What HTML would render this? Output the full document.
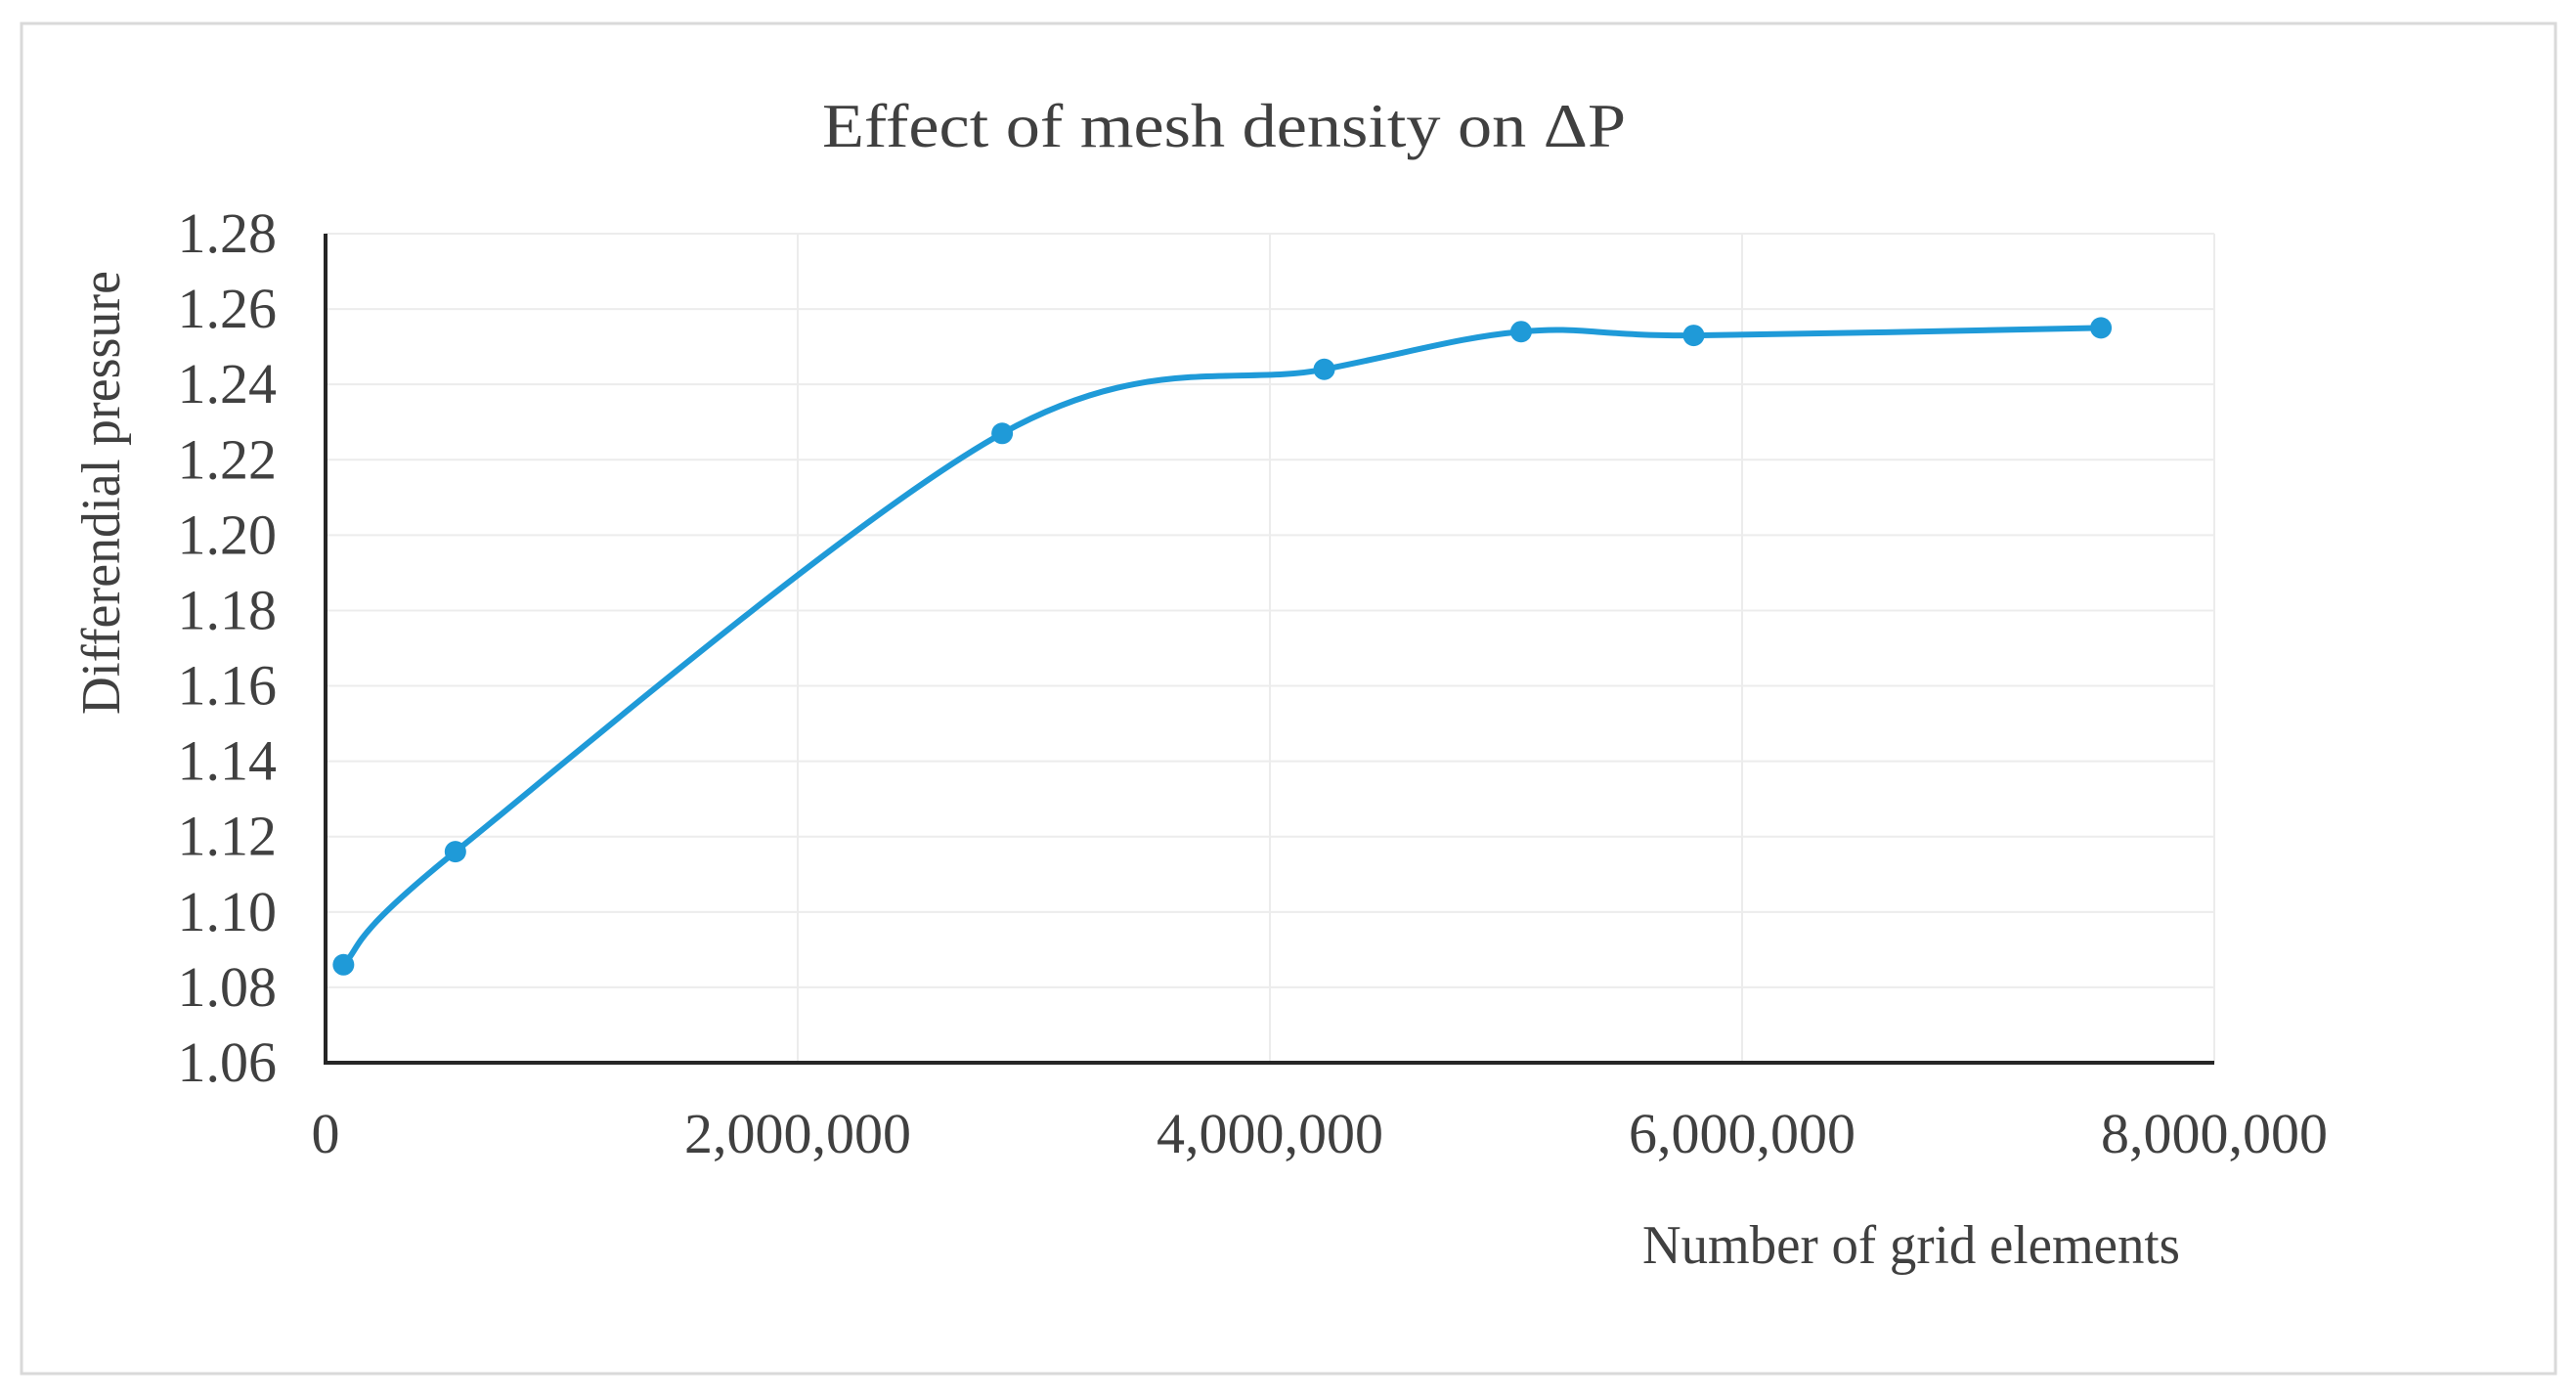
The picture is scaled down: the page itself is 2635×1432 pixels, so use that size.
<!DOCTYPE html>
<html><head><meta charset="utf-8"><style>
body{margin:0;background:#fff;}
svg{display:block;font-family:"Liberation Serif",serif;}
</style></head><body>
<svg id="chart" width="2635" height="1432" viewBox="0 0 2635 1432">
<rect x="22" y="24" width="2592" height="1381" fill="#fff" stroke="#d9d9d9" stroke-width="3"/>
<text x="1252" y="150" font-size="64" fill="#404040" text-anchor="middle" textLength="822" lengthAdjust="spacingAndGlyphs">Effect of mesh density on  ΔP</text>
<g id="grid"></g>
<g id="ylabels"></g>
<g id="xlabels"></g>
<text transform="translate(122,504) rotate(-90)" font-size="56" fill="#404040" text-anchor="middle" textLength="454" lengthAdjust="spacingAndGlyphs">Differendial pressure</text>
<text x="1955" y="1292" font-size="56" fill="#404040" text-anchor="middle" textLength="550" lengthAdjust="spacingAndGlyphs">Number of grid elements</text>
<g id="series"></g>
</svg>
<script>
const xValues = [76000, 550000, 2866000, 4230000, 5064000, 5795000, 7520000];
const yValues = [1.086, 1.116, 1.227, 1.244, 1.254, 1.253, 1.255];
const yTicks = [1.06,1.08,1.10,1.12,1.14,1.16,1.18,1.20,1.22,1.24,1.26,1.28];
const xTicks = [0, 2000000, 4000000, 6000000, 8000000];
const xTickLabels = ["0","2,000,000","4,000,000","6,000,000","8,000,000"];

const NS="http://www.w3.org/2000/svg";
const L=333,R=2265,T=239,B=1087;
const xMin=0,xMax=8000000,yMin=1.06,yMax=1.28;
function sx(v){return L+(v-xMin)/(xMax-xMin)*(R-L);}
function sy(v){return B-(v-yMin)/(yMax-yMin)*(B-T);}
function mk(tag,attrs,parent){const e=document.createElementNS(NS,tag);for(const k in attrs)e.setAttribute(k,attrs[k]);parent.appendChild(e);return e;}
const grid=document.getElementById('grid'),yl=document.getElementById('ylabels'),xl=document.getElementById('xlabels'),ser=document.getElementById('series');
yTicks.forEach(t=>{
  const g=mk('line',{x1:L,x2:R,y1:sy(t),y2:sy(t),stroke:'#ececec','stroke-width':2},grid);
  
  
  const tx=mk('text',{x:283,y:sy(t)+19,'font-size':58,fill:'#404040','text-anchor':'end'},yl);
  tx.textContent=t.toFixed(2);
  
  
});
xTicks.forEach((t,i)=>{
  if(t>0){const g=mk('line',{x1:sx(t),x2:sx(t),y1:T,y2:B,stroke:'#ececec','stroke-width':2},grid);
  
  }
  const tx=mk('text',{x:sx(t),y:1179,'font-size':58,fill:'#404040','text-anchor':'middle'},xl);
  tx.textContent=xTickLabels[i];
  
  
});
const ya=mk('line',{x1:L,x2:L,y1:T,y2:B+2,stroke:'#262626','stroke-width':4},grid);


const xa=mk('line',{x1:L-2,x2:R,y1:B,y2:B,stroke:'#262626','stroke-width':4},grid);


const pts=xValues.map((x,i)=>[sx(x),sy(yValues[i])]);
let d='M'+pts[0][0]+','+pts[0][1];
for(let i=0;i<pts.length-1;i++){
  const p0=pts[Math.max(0,i-1)],p1=pts[i],p2=pts[i+1],p3=pts[Math.min(pts.length-1,i+2)];
  const t=1/6;
  const c1=[p1[0]+(p2[0]-p0[0])*t,p1[1]+(p2[1]-p0[1])*t];
  const c2=[p2[0]-(p3[0]-p1[0])*t,p2[1]-(p3[1]-p1[1])*t];
  d+=` C${c1[0]},${c1[1]} ${c2[0]},${c2[1]} ${p2[0]},${p2[1]}`;
}
const line=mk('path',{d:d,fill:'none',stroke:'#1f9ad8','stroke-width':6,'stroke-linecap':'round'},ser);


pts.forEach(p=>{
  const c=mk('circle',{cx:p[0],cy:p[1],r:11,fill:'#1f9ad8'},ser);
  
  
});
</script>
</body></html>
